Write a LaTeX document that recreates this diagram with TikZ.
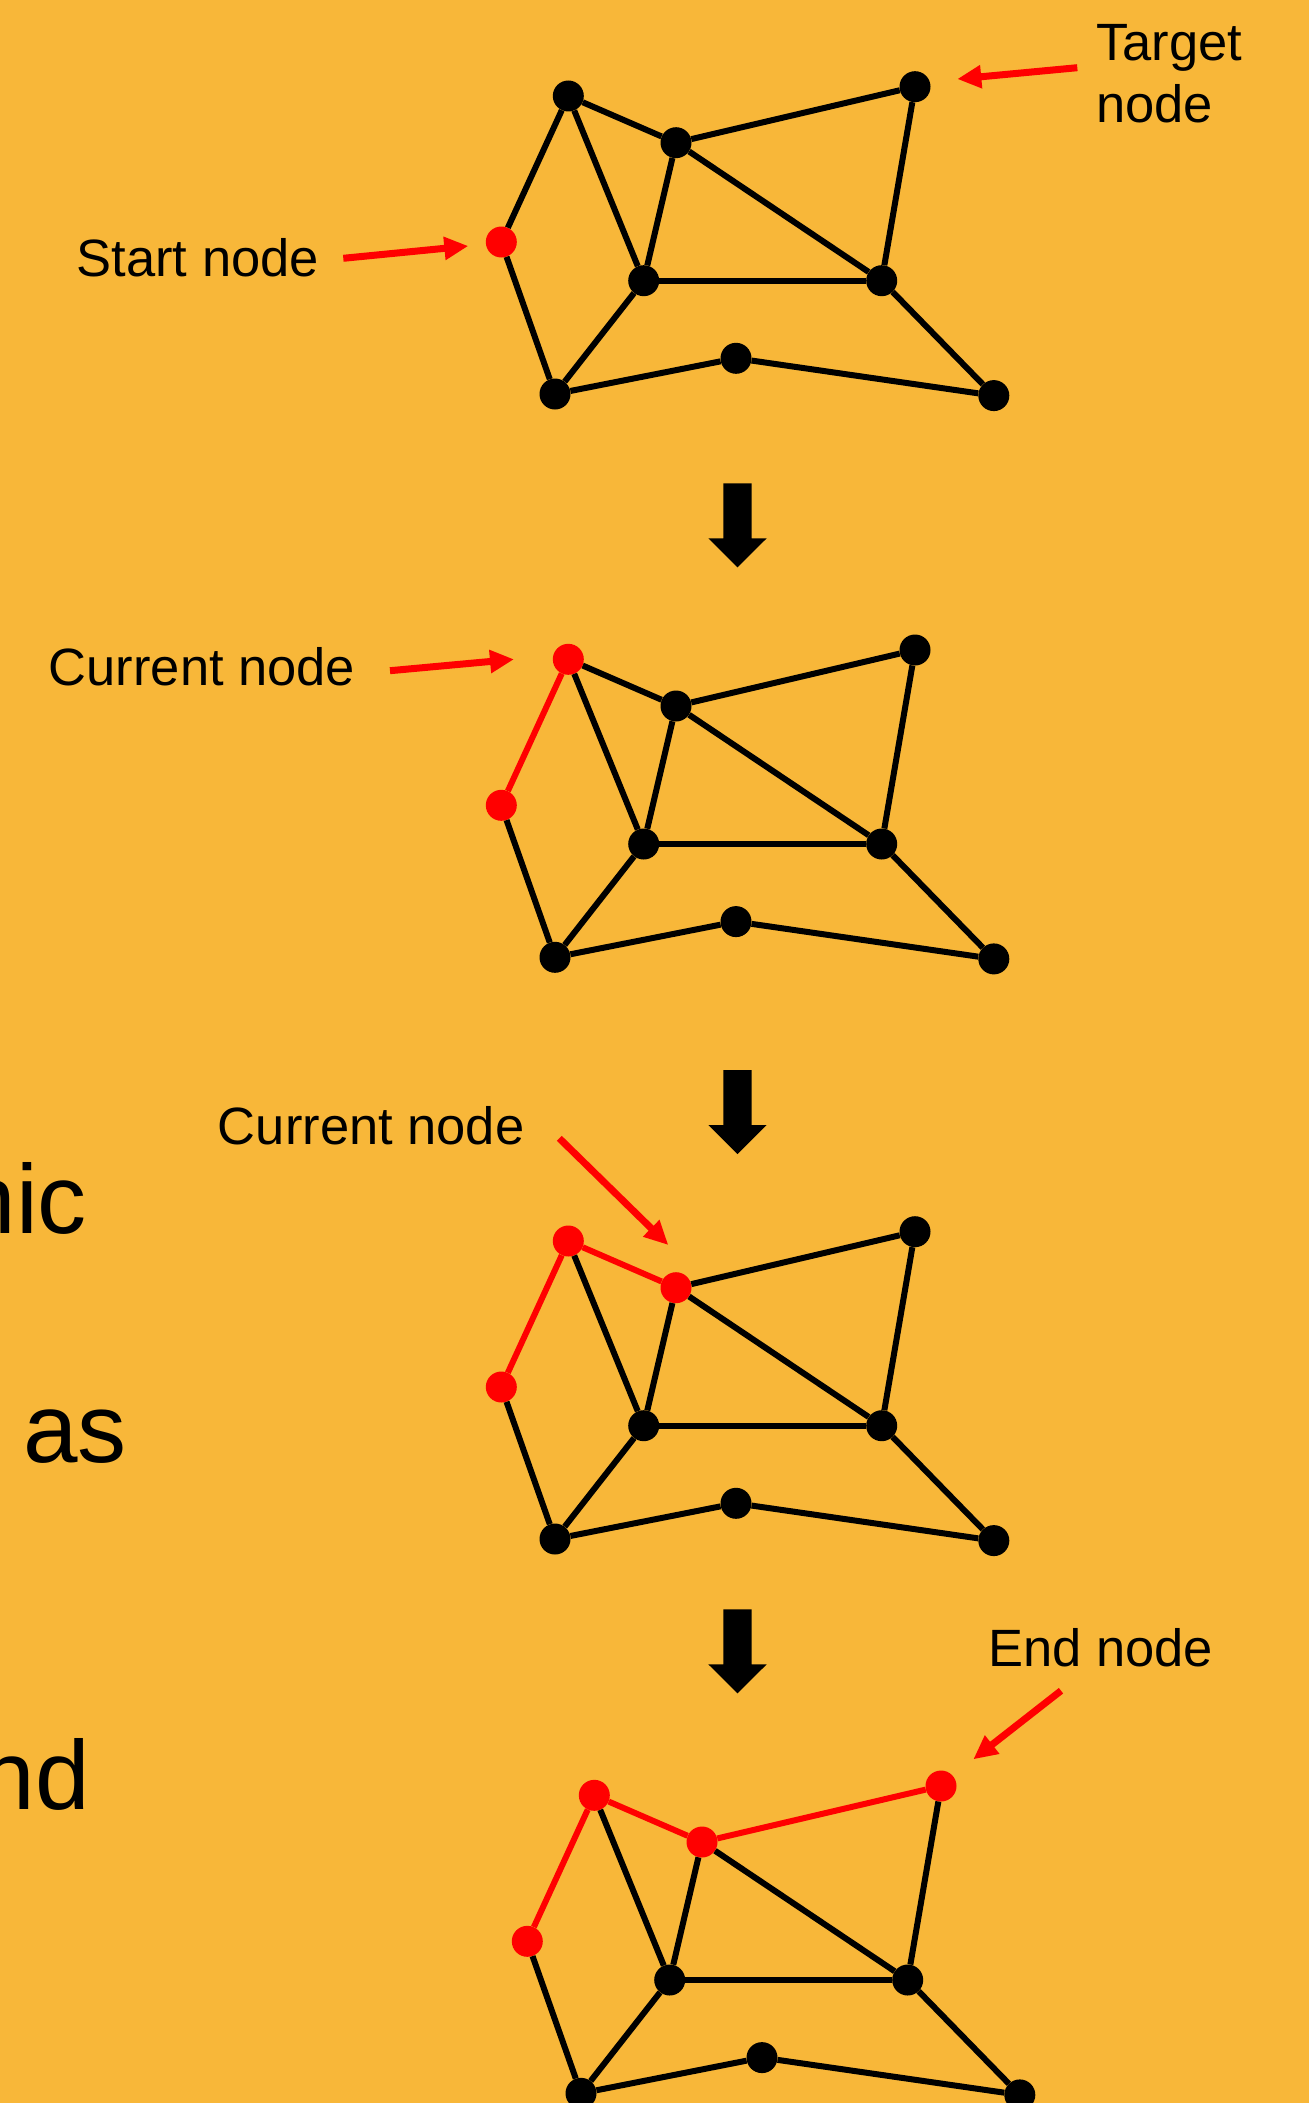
\documentclass[tikz,border=0pt]{standalone}
\usepackage{fontspec}
\setmainfont{Liberation Sans}
\usetikzlibrary{arrows.meta}
\definecolor{bgorange}{RGB}{248,183,57}
\tikzset{
  gnode/.style={circle, inner sep=0pt, minimum size=31pt, draw=none},
  gedge/.style={line width=6pt},
  redarrow/.style={draw=red, line width=7pt, -{Triangle[length=24pt,width=22pt]}},
  lbl/.style={inner sep=0pt, font=\fontsize{52.5}{61.3}\selectfont},
  bigtxt/.style={inner sep=0pt, font=\fontsize{98}{110}\selectfont},
}
\newcommand\graphat[3]{% #1 prefix, #2 shift, #3 number of red path elements
  \begin{scope}[shift={#2}]
    \foreach \n/\i/\x/\y in {S/1/501.3/242, A/2/568.3/96, B/3/676/142.7, T/4/915/86.7,
        C/5/643.7/280.7, D/6/881.7/280.7, E/7/555/394, F/8/736/358.3, G/9/993.8/395.6}{
      \ifnum\i>#3 \def\col{black}\else\def\col{red}\fi
      \node[gnode, fill=\col] (#1\n) at (\x,\y) {};
    }
    \foreach \a/\b/\i in {S/A/2, A/B/3, B/T/4, A/C/9, B/C/9, B/D/9, T/D/9, C/D/9,
        S/E/9, E/C/9, E/F/9, F/G/9, D/G/9}{
      \ifnum\i>#3 \def\col{black}\else\def\col{red}\fi
      \draw[gedge, draw=\col] (#1\a) -- (#1\b);
    }
  \end{scope}
}
\newcommand\blockarrow[1]{% #1 vertical shift
  \begin{scope}[shift={(0,#1)}]
    \fill[black] (723.3,483.3) -- (751.7,483.3) -- (751.7,538.3) -- (766.7,538.3)
      -- (737.5,567.3) -- (708.3,538.3) -- (723.3,538.3) -- cycle;
  \end{scope}
}
\begin{document}
\begin{tikzpicture}[x=1pt, y=-1pt]
  \fill[bgorange] (0,0) rectangle (1309,2103);
  \useasboundingbox (0,0) rectangle (1309,2103);

  % left cut-off big text
  \node[bigtxt, anchor=base east] (w1) at (87,1233.3) {nic};
  \node[bigtxt, anchor=base east] (w2) at (127,1462.7) {as};
  \node[bigtxt, anchor=base east] (w3) at (90,1809.3) {nd};

  % graphs
  \graphat{a}{(0,0)}{1}
  \graphat{b}{(0,563.3)}{2}
  \graphat{c}{(0,1145)}{3}
  \graphat{d}{(26,1699.3)}{4}

  % block arrows
  \blockarrow{0}
  \blockarrow{586.7}
  \blockarrow{1126}

  % labels
  \node[lbl, anchor=base] (lstart) at (197.8,276) {Start node};
  \coordinate (lstartA) at (343.3,258.3);
  \coordinate (lstartB) at (468.3,246);
  \draw[redarrow] (lstartA) -- (lstartB);

  \node[lbl, anchor=base west] (ltgt1) at (1096,61) {Target};
  \node[lbl, anchor=base west] (ltgt2) at (1096,122.3) {node};
  \coordinate (ltgtA) at (1077.3,67.7);
  \coordinate (ltgtB) at (957.3,79);
  \draw[redarrow] (ltgtA) -- (ltgtB);

  \node[lbl, anchor=base] (lcur1) at (202,685) {Current node};
  \coordinate (lcur1A) at (390,670.7);
  \coordinate (lcur1B) at (514,659.3);
  \draw[redarrow] (lcur1A) -- (lcur1B);

  \node[lbl, anchor=base] (lcur2) at (371.2,1144) {Current node};
  \coordinate (lcur2A) at (559.3,1138.3);
  \coordinate (lcur2B) at (668.3,1245);
  \draw[redarrow] (lcur2A) -- (lcur2B);

  \node[lbl, anchor=base] (lend) at (1100.8,1666.7) {End node};
  \coordinate (lendA) at (1061,1690.7);
  \coordinate (lendB) at (973.3,1759.3);
  \draw[redarrow] (lendA) -- (lendB);
\end{tikzpicture}
\end{document}
